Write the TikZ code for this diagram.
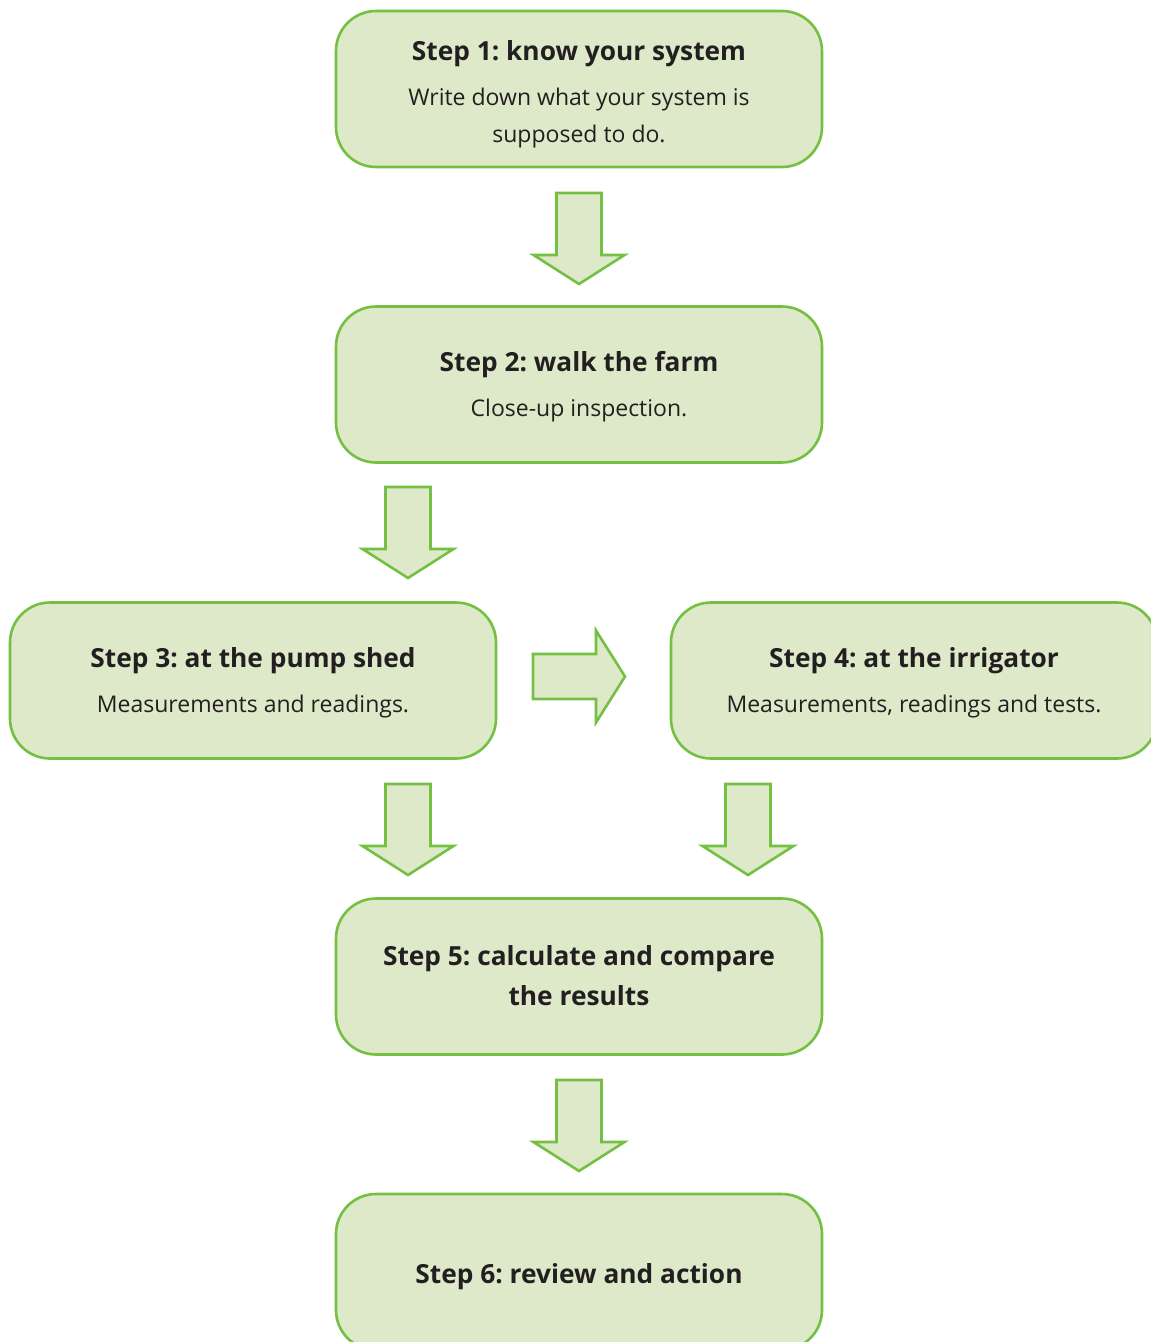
\documentclass[tikz,border=0pt]{standalone}
\usepackage{fontspec}
\setmainfont{Open Sans}
\frenchspacing
\definecolor{boxfill}{HTML}{DDE9C9}
\definecolor{boxline}{HTML}{74C043}
\definecolor{txt}{HTML}{231F20}
\begin{document}
\begin{tikzpicture}[x=1pt,y=-1pt,
  stepbox/.style={draw=boxline,fill=boxfill,line width=2.6pt,rounded corners=40pt,
    minimum width=486pt,minimum height=156pt,inner sep=0pt},
  ttl/.style={anchor=base,inner sep=0pt,text=txt,font=\fontsize{26.3}{31}\selectfont\bfseries},
  bdy/.style={anchor=base,inner sep=0pt,text=txt,font=\fontsize{23}{28}\selectfont},
  blk/.style={draw=boxline,fill=boxfill,line width=2.6pt,line join=miter},
  darrow/.pic={\path[blk] (-22.5,0) -- (-22.5,62) -- (-45.5,62) -- (0,91) -- (45.5,62) -- (22.5,62) -- (22.5,0) -- cycle;},
  rarrow/.pic={\path[blk] (0,-22.5) -- (63,-22.5) -- (63,-46) -- (92,0) -- (63,46) -- (63,22.5) -- (0,22.5) -- cycle;}
]
\useasboundingbox (0,0) rectangle (1151,1342);
\clip (0,0) rectangle (1151,1342);
\node[stepbox] (b1) at (579,89) {};
\node[stepbox] (b2) at (579,384.5) {};
\node[stepbox] (b3) at (253,680.5) {};
\node[stepbox] (b4) at (914,680.5) {};
\node[stepbox] (b5) at (579,976.5) {};
\node[stepbox] (b6) at (579,1272) {};

\node[ttl] (t1) at (579,60) {Step 1: know your system};
\node[bdy] (d1a) at (579,105) {Write down what your system is};
\node[bdy] (d1b) at (579,142) {supposed to do.};
\node[ttl] (t2) at (579,371) {Step 2: walk the farm};
\node[bdy] (d2) at (579,416) {Close-up inspection.};
\node[ttl] (t3) at (253,667) {Step 3: at the pump shed};
\node[bdy] (d3) at (253,712) {Measurements and readings.};
\node[ttl] (t4) at (914,667) {Step 4: at the irrigator};
\node[bdy] (d4) at (914,712) {Measurements, readings and tests.};
\node[ttl] (t5a) at (579,965) {Step 5: calculate and compare};
\node[ttl] (t5b) at (579,1005) {the results};
\node[ttl] (t6) at (579,1283) {Step 6: review and action};

\pic at (579,193) {darrow};
\pic at (408,487) {darrow};
\pic at (408,784) {darrow};
\pic at (748,784) {darrow};
\pic at (579,1080) {darrow};
\pic at (533,676.5) {rarrow};
\end{tikzpicture}
\end{document}
